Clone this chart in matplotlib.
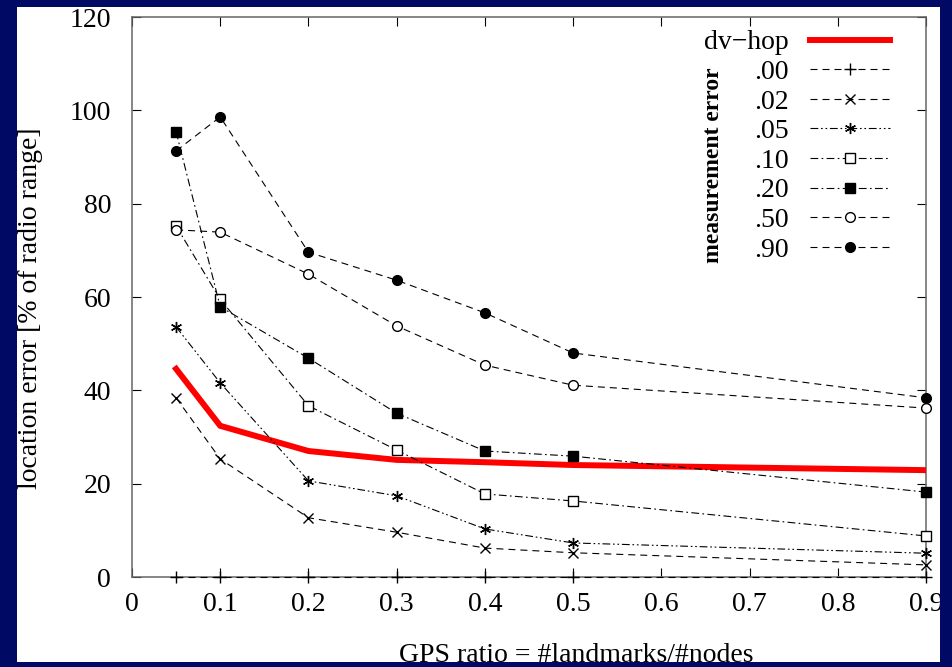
import numpy as np
import matplotlib
matplotlib.use('Agg')
import matplotlib.pyplot as plt
from matplotlib.patches import Rectangle

gps_ratio = [0.05, 0.1, 0.2, 0.3, 0.4, 0.5, 0.9]
dv_hop = [44.6, 32.4, 27.0, 25.1, 24.6, 24.0, 22.9]
err_00 = [0, 0, 0, 0, 0, 0, 0]
err_02 = [38.4, 25.3, 12.7, 9.6, 6.2, 5.2, 2.6]
err_05 = [53.6, 41.6, 20.6, 17.4, 10.3, 7.3, 5.1]
err_10 = [75.2, 59.5, 36.7, 27.2, 17.8, 16.3, 8.8]
err_20 = [95.4, 57.9, 46.9, 35.1, 27.0, 25.9, 18.2]
err_50 = [74.4, 73.9, 64.9, 53.8, 45.4, 41.1, 36.2]
err_90 = [91.3, 98.6, 69.6, 63.6, 56.6, 48.0, 38.4]

series_labels = ['.00', '.02', '.05', '.10', '.20', '.50', '.90']
series_values = [err_00, err_02, err_05, err_10, err_20, err_50, err_90]

x_ticks = [0, 0.1, 0.2, 0.3, 0.4, 0.5, 0.6, 0.7, 0.8, 0.9]
x_ticklabels = ['0', '0.1', '0.2', '0.3', '0.4', '0.5', '0.6', '0.7', '0.8', '0.9']
y_ticks = [0, 20, 40, 60, 80, 100, 120]

plt.rcParams['font.family'] = ['Liberation Serif', 'DejaVu Serif']
plt.rcParams['font.size'] = 20

fig = plt.figure(figsize=(9.53, 6.67), dpi=100, facecolor='white')
ax = fig.add_axes([0.1385, 0.1349, 0.8332, 0.8396])

# 线型：gnuplot 风格的虚线 / 点划线
dash = (0, (6.3, 4.5))
dashdot = (0, (7, 3, 1.5, 3))
dashdotdot = (0, (7, 2.5, 1.5, 2.5, 1.5, 2.5))
styles = [
    dict(ls=dash, marker='+', ms=9, mfc='black', mew=1.0),
    dict(ls=dash, marker='x', ms=7.5, mfc='black', mew=1.0),
    dict(ls=dashdotdot, marker=(6, 2, 0), ms=8, mfc='black', mew=1.0),
    dict(ls=dashdot, marker='s', ms=6.5, mfc='white', mew=1.0),
    dict(ls=dashdot, marker='s', ms=6.5, mfc='black', mew=1.0),
    dict(ls=dash, marker='o', ms=7, mfc='white', mew=1.0),
    dict(ls=dash, marker='o', ms=7, mfc='black', mew=1.0),
]

ax.plot(gps_ratio, dv_hop, color='red', lw=4.3, label='dv\u2212hop',
        solid_joinstyle='miter', zorder=3)
for lab, vals, st in zip(series_labels, series_values, styles):
    ax.plot(gps_ratio, vals, color='black', lw=0.8, mec='black', label=lab,
            clip_on=False, zorder=4, **st)

ax.set_xlim(0, 0.9)
ax.set_ylim(0, 120)
ax.set_xticks(x_ticks)
ax.set_xticklabels(x_ticklabels)
ax.set_yticks(y_ticks)
ax.tick_params(direction='in', length=6.5, width=0.8, top=True, right=True,
               labelsize=20)
ax.tick_params(axis='y', pad=15)
ax.tick_params(axis='x', pad=11)
for sp in ax.spines.values():
    sp.set_color('#666666')
    sp.set_linewidth(1.1)

ax.set_ylabel('location error [% of radio range]', fontsize=20)
ax.yaxis.set_label_coords(-0.112, 0.48)
ax.set_xlabel('GPS ratio = #landmarks/#nodes', fontsize=20)
ax.xaxis.set_label_coords(0.559, -0.117)

leg = ax.legend(loc='upper right', bbox_to_anchor=(0.955, 0.977),
                frameon=False, markerfirst=False, numpoints=1,
                handlelength=2.9, handletextpad=0.75, labelspacing=0.15,
                borderpad=0, borderaxespad=0, fontsize=20)
ax.text(0.732, 0.735, 'measurement error', transform=ax.transAxes,
        rotation=90, fontweight='bold', fontsize=17, ha='center', va='center')

# 深蓝色幻灯片边框
navy = '#000a64'
for (x0, y0, w, h) in [(0, 0, 1, 0.0075), (0, 0.9895, 1, 0.0105),
                       (0, 0, 0.0178, 1), (0.9864, 0, 0.0136, 1)]:
    fig.add_artist(Rectangle((x0, y0), w, h, transform=fig.transFigure,
                             facecolor=navy, edgecolor='none', zorder=100))

fig.savefig('out.png', dpi=100, facecolor='white')
